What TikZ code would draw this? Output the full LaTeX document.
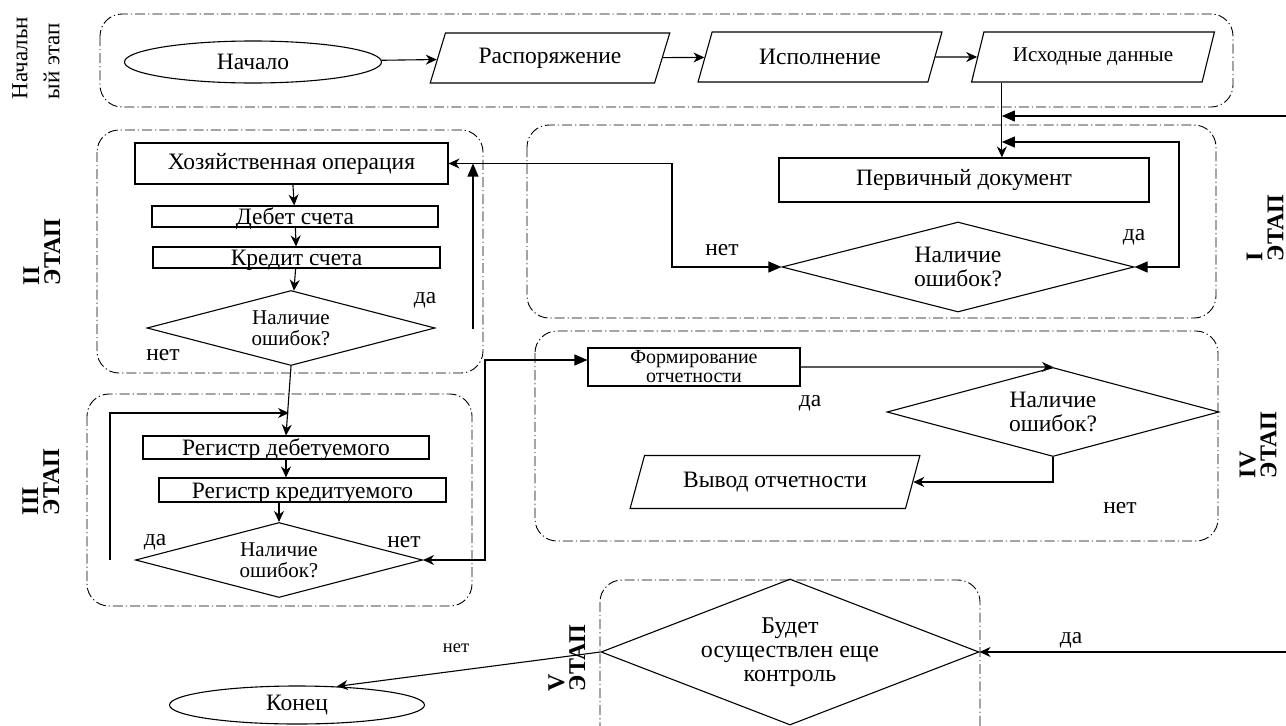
\documentclass[tikz,border=0pt]{standalone}
\usepackage{fontspec}
\setmainfont{Liberation Serif}
\usepackage{tikz}
\usetikzlibrary{shapes.geometric, arrows.meta}
\tikzstyle{startstop} = [ellipse, draw=black, line width=1.1pt, inner sep=0pt, text centered]
\tikzstyle{io} = [trapezium, trapezium left angle=63, trapezium right angle=117, trapezium stretches=true, draw=black, line width=1.1pt, inner sep=0pt, text centered]
\tikzstyle{process} = [rectangle, draw=black, line width=1.1pt, inner sep=0pt, align=center]
\tikzstyle{thinbox} = [text height=16pt, text depth=0pt]
\tikzstyle{decision} = [diamond, aspect=4, draw=black, line width=1.1pt, inner sep=0pt, align=center]
\tikzstyle{stage} = [draw=black, line width=0.9pt, rounded corners=22pt, dash pattern=on 10pt off 3pt on 1.2pt off 3pt]
\tikzstyle{stagelabel} = [rotate=90, align=left, font=\bfseries\fontsize{24}{21}\selectfont]
\tikzstyle{arrow} = [line width=1.1pt, -{Stealth[length=11pt, width=10pt]}]
\tikzstyle{tarrow} = [line width=1.1pt, -{Triangle[length=13pt, width=11pt]}]
\tikzstyle{twotri} = [line width=1.1pt, {Triangle[length=13pt, width=11pt]}-{Triangle[length=13pt, width=11pt]}]
\tikzstyle{tristealth} = [line width=1.1pt, {Triangle[length=13pt, width=11pt]}-{Stealth[length=11pt, width=10pt]}]
\tikzstyle{stealthtri} = [line width=1.1pt, {Stealth[length=11pt, width=10pt]}-{Triangle[length=13pt, width=11pt]}]

\begin{document}
\begin{tikzpicture}[x=1pt, y=-1pt, font=\fontsize{23.5}{24}\selectfont]
	\useasboundingbox (0,0) rectangle (1286,726);

	% stage frames
	\draw[stage] (100,14) rectangle (1233,107);
	\draw[stage] (97,130) rectangle (483,373);
	\draw[stage] (527,125) rectangle (1216,318);
	\draw[stage] (535,331) rectangle (1218,541);
	\draw[stage] (87,394) rectangle (472,606);
	\draw[stage] (600,580) rectangle (980,750);

	\node[rotate=90, align=left, font=\fontsize{23}{32}\selectfont] (label0) at (36,58) {Начальн\\ый этап};
	\node[stagelabel] (labelI) at (1265,228) {I\\ЭТАП};
	\node[stagelabel] (labelII) at (42,252) {II\\ЭТАП};
	\node[stagelabel] (labelIII) at (41,482) {III\\ЭТАП};
	\node[stagelabel] (labelIV) at (1258,445) {IV\\ЭТАП};
	\node[stagelabel] (labelV) at (567,658) {V\\ЭТАП};

	% initial stage
	\node[startstop, minimum width=257pt, minimum height=42pt] (nachalo) at (253,62) {Начало};
	\node[io, minimum width=240pt, minimum height=50pt] (rasp) at (550,58) {Распоряжение};
	\node[io, minimum width=244pt, minimum height=50pt] (ispoln) at (820,57) {Исполнение};
	\node[io, minimum width=243pt, minimum height=50pt, font=\fontsize{21}{21}\selectfont] (ishod) at (1093,57) {Исходные данные};

	% stage I
	\node[process, minimum width=370pt, minimum height=44pt] (perv) at (964,180) {Первичный документ};
	\node[decision, minimum width=352pt, minimum height=90pt] (dI) at (958,267) {Наличие\\ошибок?};

	% stage II
	\node[process, minimum width=313pt, minimum height=41pt] (hoz) at (291.5,163.5) {Хозяйственная операция};
	\node[process, thinbox, minimum width=286pt, minimum height=21pt, below of=hoz, node distance=53pt, xshift=3.5pt] (debet) {Дебет счета};
	\node[process, thinbox, minimum width=287pt, minimum height=21pt, below of=debet, node distance=41pt, xshift=1.5pt] (kredit) {Кредит счета};
	\node[decision, minimum width=288pt, minimum height=75pt, below of=kredit, node distance=70.5pt, xshift=-5.5pt, font=\fontsize{21}{21}\selectfont] (dII) {Наличие\\ошибок?};

	% stage III
	\node[process, thinbox, minimum width=286pt, minimum height=23pt] (regdeb) at (286,447.5) {Регистр дебетуемого};
	\node[process, thinbox, minimum width=287pt, minimum height=24pt, below of=regdeb, node distance=42.5pt, xshift=16.5pt] (regkred) {Регистр кредитуемого};
	\node[decision, minimum width=287pt, minimum height=75pt, below of=regkred, node distance=70pt, xshift=-23.5pt, font=\fontsize{21}{21}\selectfont] (dIII) {Наличие\\ошибок?};

	% stage IV
	\node[process, minimum width=212pt, minimum height=38pt, font=\fontsize{20}{19}\selectfont] (form) at (694,367) {Формирование\\отчетности};
	\node[decision, minimum width=332pt, minimum height=89pt] (dIV) at (1053,412) {Наличие\\ошибок?};
	\node[io, minimum width=290pt, minimum height=53pt] (vyvod) at (775,482) {Вывод отчетности};

	% stage V
	\node[decision, aspect=2.6, minimum width=378pt, minimum height=146pt, font=\fontsize{24}{24}\selectfont] (dV) at (790,652) {Будет\\осуществлен еще\\контроль};
	\node[startstop, minimum width=255pt, minimum height=38pt] (konec) at (297,705) {Конец};

	% connectors
	\draw[arrow] (nachalo) -- (rasp);
	\draw[arrow] (rasp) -- (ispoln);
	\draw[arrow] (ispoln) -- (ishod);
	\coordinate (ishodout) at ([xshift=31pt]ishod.bottom left corner);
	\draw[arrow] (ishodout) -- (ishodout |- perv.north);
	\coordinate (edgeA) at (1286,116);
	\draw[tarrow] (edgeA) -- (edgeA -| ishodout);
	\coordinate (loopI) at (1179,142);
	\draw[twotri] (dI.east) -| (loopI) -- (loopI -| ishodout);
	\coordinate (turnI) at (672,267);
	\draw[tristealth] (dI.west) -- (turnI) |- (hoz.east);

	\draw[arrow] (hoz) -- (debet);
	\draw[arrow] (debet) -- (kredit);
	\draw[arrow] (kredit) -- (dII);
	\coordinate (upII) at (473,329);
	\draw[tarrow] (upII) -- (upII |- hoz.east);
	\draw[arrow] (dII.south) -- (regdeb.north);

	\coordinate (loopIII) at (110,560);
	\coordinate (joinIII) at (289,413);
	\draw[arrow] (loopIII) |- (joinIII);
	\draw[arrow] (regdeb.south) -- (regdeb.south |- regkred.north);
	\draw[arrow] (dIII.north |- regkred.south) -- (dIII.north);
	\coordinate (turnIII) at (485,560);
	\draw[stealthtri] (dIII.east) -- (turnIII) |- ([yshift=7pt]form.west);

	\draw[arrow] (form.east) -- (dIV.north);
	\draw[arrow] (dIV.south) |- (vyvod.east);

	\draw[arrow] (dV.west) -- (konec.25);
	\coordinate (edgeB) at (1286,652);
	\draw[arrow] (edgeB) -- (dV.east);

	% yes / no labels
	\node (netI) at (722,250) {нет};
	\node (daI) at (1134,237) {да};
	\node (daII) at (425,300) {да};
	\node (netII) at (163,355) {нет};
	\node (daIII) at (155,542) {да};
	\node (netIII) at (404,542) {нет};
	\node (daIV) at (810,403) {да};
	\node (netIV) at (1120,508) {нет};
	\node[font=\fontsize{18.5}{18}\selectfont] (netV) at (456,648) {нет};
	\node (daV) at (1071,640) {да};
\end{tikzpicture}
\end{document}
